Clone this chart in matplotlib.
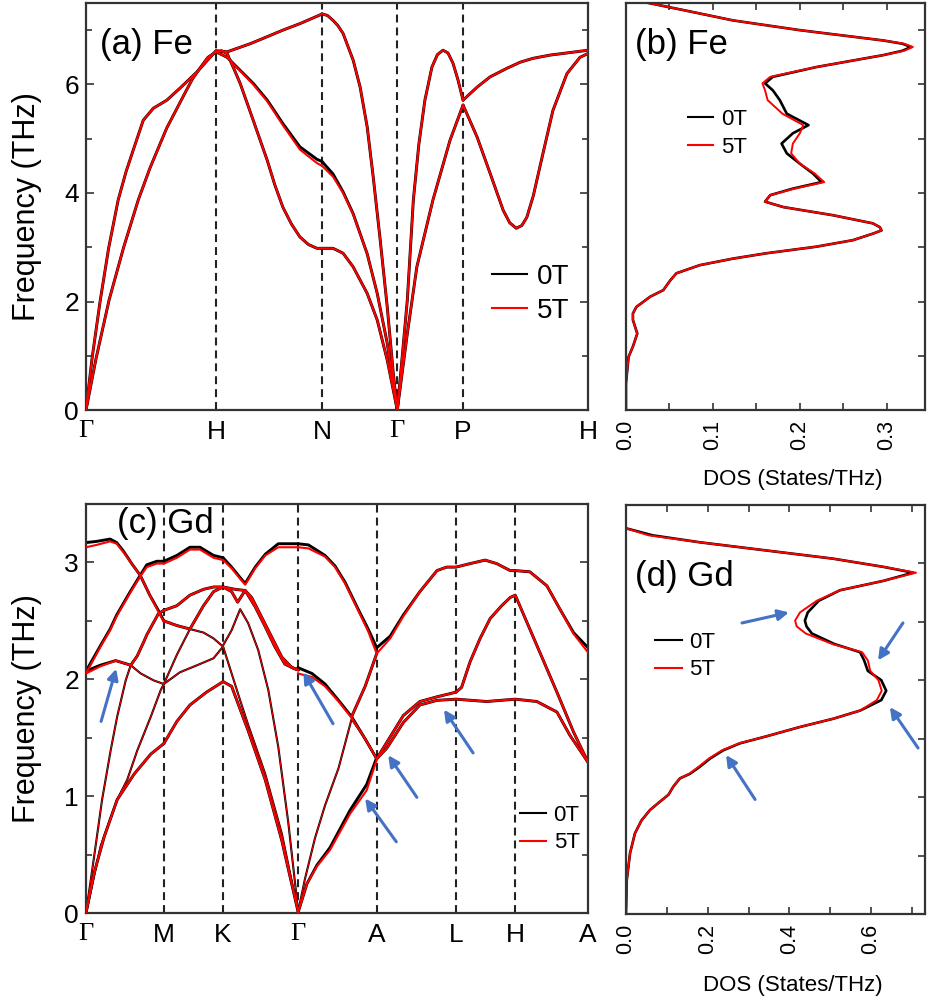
import matplotlib
matplotlib.use("Agg")
import matplotlib.pyplot as plt
from matplotlib.ticker import MultipleLocator
from matplotlib.lines import Line2D

plt.rcParams['font.family'] = ['Liberation Sans', 'DejaVu Sans']

# ---------------- (a) Fe phonon dispersion ----------------
fe_kpts = [0, 0.259, 0.470, 0.620, 0.751, 1.0]
fe_klabels = ['Γ', 'H', 'N', 'Γ', 'P', 'H']

fe_band_k = [
    [0, 0.012, 0.028, 0.045, 0.064, 0.080, 0.094, 0.114, 0.134, 0.161, 0.187, 0.221, 0.259],
    [0, 0.020, 0.046, 0.075, 0.104, 0.127, 0.145, 0.161, 0.197, 0.212, 0.227, 0.243, 0.259],
    [0.259, 0.281, 0.327, 0.361, 0.392, 0.426, 0.466, 0.470],
    [0.259, 0.281, 0.307, 0.333, 0.361, 0.392, 0.426, 0.46, 0.470],
    [0.259, 0.270, 0.281, 0.294, 0.307, 0.320, 0.333, 0.347, 0.361, 0.376, 0.392, 0.409,
     0.426, 0.443, 0.46, 0.470],
    [0.470, 0.481, 0.492, 0.502, 0.512, 0.532, 0.546, 0.560, 0.572, 0.586, 0.600, 0.612, 0.620],
    [0.470, 0.492, 0.512, 0.532, 0.560, 0.580, 0.600, 0.620],
    [0.470, 0.492, 0.512, 0.532, 0.560, 0.580, 0.600, 0.620],
    [0.620, 0.630, 0.640, 0.652, 0.663, 0.675, 0.689, 0.700, 0.711, 0.721, 0.731, 0.741, 0.751],
    [0.620, 0.640, 0.659, 0.691, 0.725, 0.751],
    [0.751, 0.779, 0.805, 0.839, 0.865, 0.890, 0.924, 0.958, 1.0],
    [0.751, 0.779, 0.805, 0.831, 0.844, 0.857, 0.868, 0.878, 0.891, 0.904, 0.930, 0.958,
     0.984, 1.0],
]
fe_band_0T = [
    [0, 0.95, 2.0, 2.98, 3.87, 4.4, 4.79, 5.34, 5.56, 5.71, 5.93, 6.23, 6.62],
    [0, 0.95, 2.03, 3.0, 3.87, 4.45, 4.85, 5.2, 5.84, 6.1, 6.3, 6.5, 6.6],
    [6.62, 6.6, 6.75, 6.88, 7.0, 7.12, 7.28, 7.3],
    [6.6, 6.5, 6.26, 6.02, 5.71, 5.28, 4.85, 4.62, 4.58],
    [6.6, 6.62, 6.57, 6.3, 6.02, 5.68, 5.34, 4.97, 4.6, 4.15, 3.74, 3.43, 3.19, 3.05,
     2.98, 2.98],
    [7.3, 7.27, 7.18, 7.08, 6.94, 6.45, 5.95, 5.22, 4.3, 3.13, 1.9, 0.68, 0],
    [4.58, 4.35, 4.02, 3.62, 2.88, 2.15, 1.23, 0],
    [2.98, 2.98, 2.89, 2.64, 2.15, 1.66, 0.92, 0],
    [0, 1.0, 2.03, 3.87, 4.9, 5.71, 6.32, 6.55, 6.63, 6.58, 6.39, 6.08, 5.71],
    [0, 1.41, 2.64, 3.87, 4.97, 5.62],
    [5.71, 5.95, 6.14, 6.3, 6.41, 6.48, 6.54, 6.58, 6.63],
    [5.62, 5.03, 4.36, 3.68, 3.45, 3.35, 3.4, 3.55, 3.95, 4.48, 5.52, 6.2, 6.5, 6.57],
]
fe_band_5T = list(fe_band_0T)
fe_band_5T[3] = [6.6, 6.5, 6.25, 6.0, 5.69, 5.25, 4.8, 4.55, 4.5]
fe_band_5T[6] = [4.5, 4.3, 4.0, 3.61, 2.88, 2.15, 1.23, 0]

# ---------------- (b) Fe DOS ----------------
fe_dos_f = [0, 0.49, 0.98, 1.17, 1.41, 1.66, 1.78, 1.9, 2.09, 2.21, 2.39, 2.52, 2.67, 2.79, 2.89,
            3.01, 3.13, 3.25, 3.31, 3.37, 3.44, 3.59, 3.74, 3.84, 3.96, 4.08, 4.2, 4.36, 4.54, 4.73,
            4.91, 5.1, 5.25, 5.46, 5.71, 5.89, 6.02, 6.14, 6.32, 6.54, 6.62, 6.69, 6.75, 6.81, 7.0,
            7.18, 7.37, 7.52]
fe_dos_0T = [0, 0, 0.003, 0.008, 0.013, 0.008, 0.008, 0.012, 0.028, 0.043, 0.051, 0.058, 0.085, 0.123, 0.162,
             0.219, 0.261, 0.284, 0.294, 0.292, 0.284, 0.238, 0.181, 0.16, 0.166, 0.192, 0.225, 0.215, 0.2, 0.185,
             0.179, 0.192, 0.21, 0.185, 0.177, 0.169, 0.16, 0.169, 0.219, 0.296, 0.318, 0.328, 0.318, 0.296, 0.2,
             0.123, 0.066, 0.02]
fe_dos_5T = [0, 0, 0.003, 0.008, 0.013, 0.008, 0.008, 0.012, 0.028, 0.043, 0.051, 0.058, 0.085, 0.123, 0.162,
             0.219, 0.261, 0.284, 0.294, 0.292, 0.284, 0.238, 0.181, 0.16, 0.166, 0.194, 0.228, 0.217, 0.2, 0.19,
             0.192, 0.2, 0.204, 0.18, 0.163, 0.16, 0.157, 0.166, 0.219, 0.296, 0.32, 0.33, 0.32, 0.296, 0.2,
             0.123, 0.066, 0.02]

# ---------------- (c) Gd phonon dispersion ----------------
gd_kpts = [0, 0.155, 0.273, 0.422, 0.579, 0.737, 0.855, 1.0]
gd_klabels = ['Γ', 'M', 'K', 'Γ', 'A', 'L', 'H', 'A']

gd_band_k = [
    # Gamma - M
    [0, 0.021, 0.048, 0.061, 0.074, 0.091, 0.108, 0.127, 0.144, 0.155],
    [0, 0.029, 0.048, 0.061, 0.088, 0.108, 0.121, 0.141, 0.155],
    [0, 0.028, 0.059, 0.082, 0.089, 0.102, 0.116, 0.121, 0.144, 0.155],
    [0, 0.016, 0.032, 0.049, 0.062, 0.079, 0.089, 0.109, 0.135, 0.155],
    [0, 0.029, 0.062, 0.082, 0.102, 0.129, 0.149, 0.155],
    [0, 0.016, 0.036, 0.062, 0.096, 0.129, 0.155],
    # M - K
    [0.155, 0.181, 0.207, 0.227, 0.254, 0.273],
    [0.155, 0.181, 0.207, 0.234, 0.254, 0.273],
    [0.155, 0.181, 0.207, 0.234, 0.254, 0.273],
    [0.155, 0.181, 0.207, 0.234, 0.254, 0.273],
    [0.155, 0.187, 0.221, 0.254, 0.273],
    [0.155, 0.181, 0.207, 0.240, 0.273],
    # K - Gamma
    [0.273, 0.290, 0.307, 0.317, 0.337, 0.357, 0.383, 0.423],
    [0.273, 0.290, 0.302, 0.317, 0.337, 0.357, 0.376, 0.396, 0.416, 0.423],
    [0.273, 0.297, 0.317, 0.330, 0.350, 0.370, 0.390, 0.410, 0.423],
    [0.273, 0.290, 0.307, 0.323, 0.343, 0.363, 0.383, 0.403, 0.423],
    [0.273, 0.290, 0.307, 0.323, 0.357, 0.390, 0.423],
    [0.273, 0.290, 0.303, 0.323, 0.357, 0.390, 0.423],
    # Gamma - A
    [0.422, 0.443, 0.476, 0.496, 0.516, 0.542, 0.562, 0.579],
    [0.422, 0.450, 0.476, 0.503, 0.529, 0.556, 0.579],
    [0.529, 0.556, 0.579],
    [0.422, 0.436, 0.456, 0.476, 0.503, 0.529, 0.556, 0.579],
    [0.422, 0.440, 0.460, 0.486, 0.526, 0.559, 0.579],
    # A - L - H - A
    [0.579, 0.606, 0.632, 0.665, 0.699, 0.718, 0.737, 0.765, 0.795, 0.818, 0.845, 0.855,
     0.884, 0.918, 0.944, 0.971, 1.0],
    [0.579, 0.599, 0.632, 0.665, 0.699, 0.737, 0.748, 0.765, 0.785, 0.805, 0.828, 0.845,
     0.855, 0.878, 0.904, 0.938, 0.971, 1.0],
    [0.579, 0.599, 0.632, 0.665, 0.699, 0.737, 0.798, 0.855, 0.898, 0.938, 0.964, 1.0],
]
gd_band_0T = [
    [3.17, 3.18, 3.2, 3.17, 3.1, 2.99, 2.89, 2.72, 2.59, 2.5],
    [2.07, 2.29, 2.43, 2.55, 2.75, 2.89, 2.98, 3.01, 3.01],
    [2.07, 2.12, 2.16, 2.13, 2.12, 2.2, 2.33, 2.38, 2.56, 2.59],
    [0, 0.48, 0.97, 1.39, 1.68, 1.99, 2.12, 2.05, 1.99, 1.96],
    [0, 0.57, 0.97, 1.14, 1.39, 1.68, 1.91, 1.96],
    [0, 0.34, 0.65, 0.97, 1.19, 1.36, 1.45],
    [3.01, 3.06, 3.13, 3.13, 3.06, 3.04],
    [2.59, 2.63, 2.72, 2.77, 2.79, 2.79],
    [2.5, 2.46, 2.43, 2.63, 2.75, 2.79],
    [1.96, 2.21, 2.43, 2.4, 2.35, 2.28],
    [1.96, 2.06, 2.12, 2.18, 2.28],
    [1.45, 1.64, 1.78, 1.89, 1.98],
    [3.04, 2.96, 2.87, 2.82, 2.96, 3.07, 3.16, 3.16],
    [2.79, 2.75, 2.66, 2.76, 2.62, 2.45, 2.28, 2.13, 2.09, 2.08],
    [2.79, 2.77, 2.76, 2.7, 2.53, 2.36, 2.19, 2.1, 2.08],
    [2.29, 2.42, 2.6, 2.48, 2.25, 1.91, 1.42, 0.77, 0],
    [2.28, 2.05, 1.82, 1.61, 1.19, 0.68, 0],
    [1.98, 1.94, 1.79, 1.56, 1.14, 0.62, 0],
    [3.16, 3.15, 3.06, 2.97, 2.83, 2.6, 2.43, 2.27],
    [2.1, 2.05, 1.96, 1.82, 1.68, 1.49, 1.32],
    [1.68, 1.94, 2.22],
    [0, 0.29, 0.64, 0.92, 1.24, 1.66, 1.49, 1.32],
    [0, 0.25, 0.41, 0.56, 0.88, 1.1, 1.33],
    [2.27, 2.37, 2.55, 2.75, 2.93, 2.96, 2.96, 2.99, 3.02, 2.99, 2.93, 2.93,
     2.92, 2.8, 2.6, 2.4, 2.27],
    [1.32, 1.46, 1.69, 1.81, 1.85, 1.89, 1.93, 2.15, 2.35, 2.52, 2.63, 2.7,
     2.72, 2.49, 2.23, 1.89, 1.55, 1.29],
    [1.32, 1.41, 1.63, 1.78, 1.82, 1.83, 1.81, 1.83, 1.81, 1.72, 1.52, 1.29],
]
gd_band_5T = list(gd_band_0T)
gd_band_5T[0] = [3.13, 3.15, 3.18, 3.16, 3.09, 2.99, 2.89, 2.72, 2.58, 2.49]
gd_band_5T[1] = [2.05, 2.28, 2.42, 2.54, 2.74, 2.88, 2.96, 2.99, 2.99]
gd_band_5T[2] = [2.05, 2.11, 2.16, 2.13, 2.12, 2.2, 2.33, 2.38, 2.56, 2.59]
gd_band_5T[6] = [2.99, 3.04, 3.11, 3.11, 3.04, 3.02]
gd_band_5T[12] = [3.02, 2.95, 2.86, 2.81, 2.95, 3.06, 3.13, 3.13]
gd_band_5T[18] = [3.13, 3.12, 3.05, 2.96, 2.82, 2.59, 2.41, 2.22]
gd_band_5T[19] = [2.05, 2.02, 1.94, 1.81, 1.67, 1.49, 1.32]
gd_band_5T[22] = [0, 0.25, 0.4, 0.54, 0.85, 1.05, 1.31]
gd_band_5T[23] = [2.22, 2.35, 2.54, 2.75, 2.93, 2.96, 2.96, 2.99, 3.02, 2.99, 2.93, 2.93,
                  2.92, 2.8, 2.6, 2.39, 2.23]
gd_band_thin = [False, False, False, True, True, False,
                False, False, False, True, True, False,
                False, False, False, True, True, False,
                False, False, False, True, False,
                False, False, False]

# ---------------- (d) Gd DOS ----------------
gd_dos_f = [0, 0.29, 0.52, 0.69, 0.8, 0.89, 0.96, 1.02, 1.09, 1.16, 1.2, 1.26, 1.33, 1.4, 1.46,
            1.52, 1.6, 1.67, 1.74, 1.83, 1.91, 2.0, 2.08, 2.17, 2.24, 2.31, 2.4, 2.46, 2.51, 2.58,
            2.68, 2.77, 2.85, 2.92, 2.97, 3.04, 3.11, 3.18, 3.24, 3.3]
gd_dos_0T = [0, 0.002, 0.01, 0.022, 0.038, 0.059, 0.083, 0.104, 0.116, 0.132, 0.157, 0.181, 0.206, 0.238, 0.279,
             0.344, 0.426, 0.507, 0.573, 0.625, 0.637, 0.625, 0.592, 0.583, 0.573, 0.51, 0.455, 0.442, 0.438, 0.445,
             0.472, 0.524, 0.63, 0.703, 0.63, 0.507, 0.344, 0.181, 0.065, 0.0]
gd_dos_5T = [0, 0.002, 0.01, 0.022, 0.038, 0.059, 0.083, 0.104, 0.116, 0.132, 0.155, 0.178, 0.203, 0.235, 0.277,
             0.344, 0.426, 0.507, 0.573, 0.614, 0.626, 0.618, 0.598, 0.592, 0.578, 0.505, 0.44, 0.418, 0.414, 0.426,
             0.467, 0.524, 0.63, 0.71, 0.63, 0.507, 0.344, 0.181, 0.055, 0.0]

# arrows (tail -> head)
gd_arrows = [((0.030, 1.64), (0.060, 2.09)), ((0.492, 1.62), (0.433, 2.06)),
             ((0.659, 0.99), (0.602, 1.35)), ((0.618, 0.61), (0.556, 0.98)),
             ((0.771, 1.37), (0.713, 1.74))]
gd_dos_arrows = [((0.284, 2.49), (0.399, 2.58)), ((0.678, 2.49), (0.617, 2.17)),
                 ((0.715, 1.42), (0.646, 1.77)), ((0.316, 0.98), (0.245, 1.36))]

SPINE = '#333333'
ARROW = '#4472c4'


def style_spines(ax):
    for s in ax.spines.values():
        s.set_color(SPINE)
        s.set_linewidth(1.6)


def legend(ax, x, y, size, hl):
    h = [Line2D([], [], color='black', lw=1.5), Line2D([], [], color='red', lw=1.5)]
    ax.legend(h, ['0T', '5T'], loc='upper left', bbox_to_anchor=(x, y), frameon=False,
              fontsize=size, handlelength=hl, handletextpad=0.35, labelspacing=0.3,
              borderpad=0, borderaxespad=0)


def band_panel(ax, kpts, klabels, ks, f0, f5, thin, ymax, ymajor, yminor):
    for k in kpts[1:-1]:
        ax.axvline(k, color='#222222', lw=1.5, ls=(0, (3.8, 2.4)), zorder=1)
    for k, f, t in zip(ks, f0, thin):
        ax.plot(k, f, color='black', lw=1.5 if t else 2.1, zorder=2,
                solid_joinstyle='round', solid_capstyle='round')
    for k, f, t in zip(ks, f5, thin):
        ax.plot(k, f, color='red', lw=0.7 if t else 1.5, zorder=3,
                solid_joinstyle='round', solid_capstyle='round')
    ax.set_xlim(0, 1)
    ax.set_ylim(0, ymax)
    ax.set_xticks(kpts)
    ax.set_xticklabels(klabels)
    for lbl in ax.get_xticklabels():
        if lbl.get_text() == 'Γ':
            lbl.set_fontfamily('Liberation Serif')
            lbl.set_fontsize(21)
    ax.yaxis.set_major_locator(MultipleLocator(ymajor))
    ax.yaxis.set_minor_locator(MultipleLocator(yminor))
    ax.tick_params(axis='x', length=0, labelsize=19, pad=7)
    ax.tick_params(axis='y', which='both', direction='in', left=True, right=True,
                   labelsize=19, pad=5, width=1.2, color=SPINE)
    ax.tick_params(axis='y', which='major', length=6)
    ax.tick_params(axis='y', which='minor', length=4)
    ax.set_ylabel('Frequency (THz)', fontsize=22)
    ax.yaxis.set_label_coords(-0.088, 0.5)
    style_spines(ax)


def dos_panel(ax, f, d0, d5, xmax, xmajor, xminor, ymax, ystep):
    ax.plot(d0, f, color='black', lw=1.9, solid_joinstyle='round')
    ax.plot(d5, f, color='red', lw=1.4, solid_joinstyle='round')
    ax.set_xlim(0, xmax)
    ax.set_ylim(0, ymax)
    ax.xaxis.set_major_locator(MultipleLocator(xmajor))
    ax.xaxis.set_minor_locator(MultipleLocator(xminor))
    ax.yaxis.set_major_locator(MultipleLocator(ystep))
    ax.tick_params(axis='x', which='both', direction='in', top=True, bottom=True,
                   labelsize=15.5, labelrotation=90, pad=7, width=1.2, color=SPINE, length=5)
    ax.tick_params(axis='y', which='both', direction='in', left=False, right=True,
                   labelleft=False, width=1.2, color=SPINE, length=5)
    ax.xaxis.set_major_formatter(plt.FormatStrFormatter('%.1f'))
    style_spines(ax)


fig = plt.figure(figsize=(9.29, 10.06), dpi=100)
ax_a = fig.add_axes([0.0926, 0.5924, 0.5404, 0.4046])
ax_b = fig.add_axes([0.6738, 0.5924, 0.3219, 0.4046])
ax_c = fig.add_axes([0.0926, 0.0924, 0.5404, 0.4066])
ax_d = fig.add_axes([0.6738, 0.0915, 0.3219, 0.4066])

band_panel(ax_a, fe_kpts, fe_klabels, fe_band_k, fe_band_0T, fe_band_5T,
           [False] * len(fe_band_k), 7.5, 2, 1)
ax_a.text(0.028, 0.899, '(a) Fe', transform=ax_a.transAxes, fontsize=25, va='center')
legend(ax_a, 0.809, 0.36, 20, 1.25)

dos_panel(ax_b, fe_dos_f, fe_dos_0T, fe_dos_5T, 0.344, 0.1, 0.05, 7.5, 1)
ax_b.text(0.03, 0.897, '(b) Fe', transform=ax_b.transAxes, fontsize=25, va='center')
legend(ax_b, 0.207, 0.74, 16, 1.15)
fig.text(793 / 929, 1 - 480 / 1006, 'DOS (States/THz)', fontsize=16, ha='center', va='center')

band_panel(ax_c, gd_kpts, gd_klabels, gd_band_k, gd_band_0T, gd_band_5T,
           gd_band_thin, 3.5, 1, 0.5)
ax_c.text(0.062, 0.953, '(c) Gd', transform=ax_c.transAxes, fontsize=25, va='center')
legend(ax_c, 0.865, 0.265, 16, 1.15)
for tail, head in gd_arrows:
    ax_c.annotate('', xy=head, xytext=tail,
                  arrowprops=dict(arrowstyle='-|>', color=ARROW, lw=2.2, mutation_scale=16,
                                  shrinkA=0, shrinkB=0), zorder=5)

dos_panel(ax_d, gd_dos_f, gd_dos_0T, gd_dos_5T, 0.732, 0.2, 0.1, 3.5, 0.5)
ax_d.text(0.03, 0.824, '(d) Gd', transform=ax_d.transAxes, fontsize=25, va='center')
legend(ax_d, 0.097, 0.69, 16, 1.2)
for tail, head in gd_dos_arrows:
    ax_d.annotate('', xy=head, xytext=tail,
                  arrowprops=dict(arrowstyle='-|>', color=ARROW, lw=2.2, mutation_scale=16,
                                  shrinkA=0, shrinkB=0), zorder=5)
fig.text(793 / 929, 1 - 986 / 1006, 'DOS (States/THz)', fontsize=16, ha='center', va='center')

fig.savefig('out.png', dpi=100)
